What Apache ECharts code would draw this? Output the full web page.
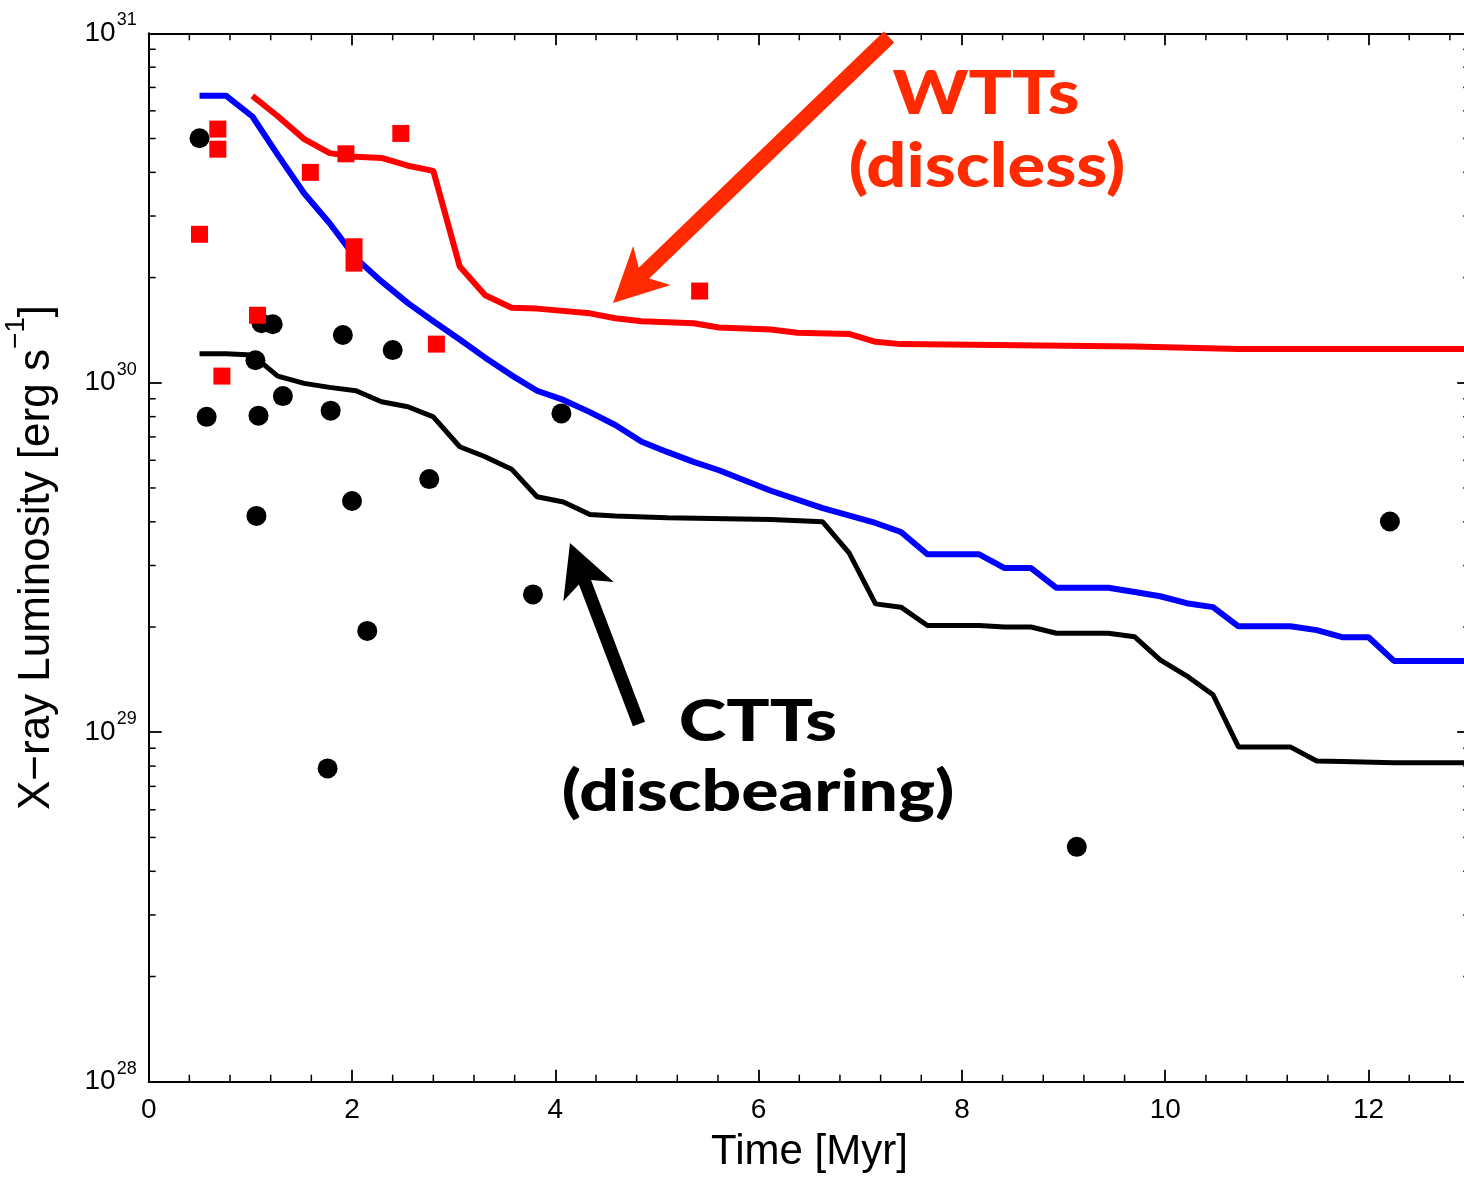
<!DOCTYPE html>
<html>
<head>
<meta charset="utf-8">
<script src="https://cdn.jsdelivr.net/npm/echarts@6/dist/echarts.min.js"></script>
<style>
  html, body { margin: 0; padding: 0; overflow: hidden; background: #fff; }
  #chart { width: 1480px; height: 1177px; }
</style>
</head>
<body>
<div id="chart"></div>
<script>
// Model tracks: X-ray luminosity vs. age
const wttModelAge = [1.02, 1.27, 1.53, 1.78, 2.04, 2.29, 2.55, 2.80, 3.06, 3.31, 3.57, 3.82, 4.34, 4.59, 4.85, 5.36, 5.61, 6.12, 6.38, 6.89, 7.15, 7.40, 9.70, 10.72, 11.74, 13.02];
const wttModelLx  = [6.62e30, 5.79e30, 4.98e30, 4.54e30, 4.43e30, 4.40e30, 4.18e30, 4.04e30, 2.15e30, 1.78e30, 1.64e30, 1.63e30, 1.58e30, 1.53e30, 1.50e30, 1.48e30, 1.44e30, 1.42e30, 1.39e30, 1.38e30, 1.31e30, 1.29e30, 1.27e30, 1.25e30, 1.25e30, 1.25e30];

const allModelAge = [0.50, 0.76, 1.02, 1.27, 1.53, 1.78, 2.04, 2.29, 2.55, 2.80, 3.06, 3.31, 3.57, 3.82, 4.08, 4.34, 4.59, 4.85, 5.10, 5.36, 5.61, 6.12, 6.63, 7.15, 7.40, 7.66, 8.17, 8.42, 8.68, 8.93, 9.44, 9.70, 9.95, 10.21, 10.47, 10.72, 11.23, 11.49, 11.74, 12.00, 12.25, 13.02];
const allModelLx  = [6.63e30, 6.63e30, 5.78e30, 4.49e30, 3.48e30, 2.86e30, 2.27e30, 1.95e30, 1.69e30, 1.50e30, 1.33e30, 1.18e30, 1.05e30, 9.49e29, 8.93e29, 8.24e29, 7.57e29, 6.78e29, 6.34e29, 5.94e29, 5.62e29, 4.91e29, 4.38e29, 3.97e29, 3.74e29, 3.23e29, 3.23e29, 2.95e29, 2.95e29, 2.59e29, 2.59e29, 2.52e29, 2.45e29, 2.34e29, 2.28e29, 2.01e29, 2.01e29, 1.96e29, 1.87e29, 1.87e29, 1.60e29, 1.60e29];

const cttModelAge = [0.50, 0.76, 1.02, 1.27, 1.53, 1.78, 2.04, 2.29, 2.55, 2.80, 3.06, 3.31, 3.57, 3.82, 4.08, 4.34, 4.59, 5.10, 6.12, 6.63, 6.89, 7.15, 7.40, 7.66, 8.17, 8.42, 8.68, 8.93, 9.44, 9.70, 9.95, 10.21, 10.47, 10.72, 11.23, 11.49, 11.74, 12.25, 13.02];
const cttModelLx  = [1.21e30, 1.21e30, 1.20e30, 1.045e30, 9.96e29, 9.70e29, 9.49e29, 8.82e29, 8.54e29, 7.99e29, 6.56e29, 6.14e29, 5.66e29, 4.72e29, 4.56e29, 4.20e29, 4.16e29, 4.11e29, 4.06e29, 4.00e29, 3.26e29, 2.33e29, 2.28e29, 2.02e29, 2.02e29, 2.00e29, 2.00e29, 1.92e29, 1.92e29, 1.875e29, 1.61e29, 1.45e29, 1.28e29, 9.08e28, 9.08e28, 8.27e28, 8.25e28, 8.18e28, 8.18e28];

// Observed stars
const cttAge = [0.50, 1.11, 1.22, 1.91, 2.40, 1.05, 0.57, 1.08, 1.32, 1.79, 2.76, 2.00, 1.06, 2.15, 1.76, 4.06, 3.78, 9.13, 12.21];
const cttLx  = [5.01e30, 1.48e30, 1.47e30, 1.37e30, 1.24e30, 1.16e30, 7.99e29, 8.05e29, 9.16e29, 8.32e29, 5.30e29, 4.59e29, 4.16e29, 1.95e29, 7.88e28, 8.17e29, 2.48e29, 4.70e28, 4.01e29];

const wttAge = [0.68, 0.68, 0.50, 1.59, 1.94, 2.48, 2.02, 2.02, 1.07, 2.83, 0.72, 5.42];
const wttLx  = [5.32e30, 4.66e30, 2.66e30, 4.00e30, 4.52e30, 5.17e30, 2.45e30, 2.20e30, 1.56e30, 1.29e30, 1.045e30, 1.83e30];

const zip = (xs, ys) => xs.map((x, i) => [x, ys[i]]);

// Minor tick positions (x every 0.4 Myr, y at 2..9 within each decade)
const minorTicks = [];
for (let k = 1; k <= 32; k++) if (k % 5 !== 0) minorTicks.push([k * 0.4, 1e29, 0]);
for (let e = 28; e <= 30; e++) for (let m = 2; m <= 9; m++) minorTicks.push([1, m * Math.pow(10, e), 1]);

const AXIS_FONT = 'Liberation Sans, Arial, Helvetica, sans-serif';
const NOTE_FONT = 'Lato, Open Sans, sans-serif';
const NOTE_RED = '#ff2a00';

function arrowPoints(tail, tip, shaftHalf, notchDist, barbDist, barbHalf) {
  const dx = tip[0] - tail[0], dy = tip[1] - tail[1];
  const L = Math.hypot(dx, dy);
  const ux = dx / L, uy = dy / L, nx = -uy, ny = ux;
  const at = (d, w) => [tip[0] - ux * d + nx * w, tip[1] - uy * d + ny * w];
  return [
    [tail[0] + nx * shaftHalf, tail[1] + ny * shaftHalf],
    at(notchDist, shaftHalf), at(barbDist, barbHalf), tip.slice(),
    at(barbDist, -barbHalf), at(notchDist, -shaftHalf),
    [tail[0] - nx * shaftHalf, tail[1] - ny * shaftHalf]
  ];
}

function note(text, x, y, size, color, stretch) {
  return {
    type: 'text', z: 100, x: x, y: y, scaleX: stretch, scaleY: 1,
    style: { text: text, fontFamily: NOTE_FONT, fontWeight: 900, fontSize: size, fill: color, align: 'center', verticalAlign: 'middle' }
  };
}

const chart = echarts.init(document.getElementById('chart'), null, { renderer: 'canvas' });

const xAxisBase = {
  type: 'value', min: 0, max: 13, interval: 2,
  axisLine: { show: true, onZero: false, lineStyle: { color: '#000', width: 2 } },
  axisTick: { show: true, inside: true, length: 12, lineStyle: { color: '#000', width: 1.8 } },
  minorTick: { show: false },
  splitLine: { show: false }
};
const yAxisBase = {
  type: 'log', logBase: 10, min: 1e28, max: 1e31,
  axisLine: { show: true, onZero: false, lineStyle: { color: '#000', width: 2 } },
  axisTick: { show: true, inside: true, length: 13, lineStyle: { color: '#000', width: 1.8 } },
  minorTick: { show: false },
  splitLine: { show: false }
};

function minorTickItem(params, api) {
  const cs = params.coordSys;
  const st = { stroke: '#000', lineWidth: 1.5 };
  if (api.value(2) === 0) {
    const px = api.coord([api.value(0), 1e29])[0];
    const yb = cs.y + cs.height, yt = cs.y;
    return { type: 'group', children: [
      { type: 'line', shape: { x1: px, y1: yb, x2: px, y2: yb - 7 }, style: st },
      { type: 'line', shape: { x1: px, y1: yt, x2: px, y2: yt + 7 }, style: st }
    ] };
  }
  const py = api.coord([1, api.value(1)])[1];
  const xl = cs.x, xr = cs.x + cs.width;
  return { type: 'group', children: [
    { type: 'line', shape: { x1: xl, y1: py, x2: xl + 7, y2: py }, style: st },
    { type: 'line', shape: { x1: xr, y1: py, x2: xr - 7, y2: py }, style: st }
  ] };
}

chart.setOption({
  animation: false,
  backgroundColor: '#fff',
  grid: { left: 148.7, top: 33.3, right: 9.8, bottom: 95.3, containLabel: false, outerBoundsMode: 'none' },
  xAxis: [
    Object.assign({}, xAxisBase, {
      position: 'bottom',
      name: 'Time [Myr]', nameLocation: 'middle', nameGap: 50,
      nameTextStyle: { fontFamily: AXIS_FONT, fontSize: 42, color: '#000' },
      axisLabel: { show: true, showMaxLabel: false, margin: 15, fontFamily: AXIS_FONT, fontSize: 28, color: '#000' }
    }),
    Object.assign({}, xAxisBase, { position: 'top', axisLabel: { show: false } })
  ],
  yAxis: [
    Object.assign({}, yAxisBase, {
      position: 'left',
      name: 'X\u2212ray Luminosity [erg s{sup|\u22121}]', nameLocation: 'middle', nameGap: 78,
      nameTextStyle: {
        fontFamily: AXIS_FONT, fontSize: 44, color: '#000', lineHeight: 68,
        rich: { sup: { fontFamily: AXIS_FONT, fontSize: 28, color: '#000', verticalAlign: 'top', lineHeight: 30 } }
      },
      axisLabel: {
        show: true, margin: 12,
        formatter: v => '{a|10}{b|' + Math.round(Math.log10(v)) + '}',
        rich: {
          a: { fontFamily: AXIS_FONT, fontSize: 28, color: '#000', lineHeight: 44 },
          b: { fontFamily: AXIS_FONT, fontSize: 18, color: '#000', verticalAlign: 'top', lineHeight: 18, padding: [0, 0, 0, 1] }
        }
      }
    }),
    Object.assign({}, yAxisBase, { position: 'right', axisLabel: { show: false } })
  ],
  series: [
    { type: 'custom', renderItem: minorTickItem, data: minorTicks, clip: false, silent: true, z: 1 },
    { name: 'CTTs', type: 'scatter', data: zip(cttAge, cttLx), symbol: 'circle', symbolSize: 20,
      itemStyle: { color: '#000', opacity: 1 }, z: 2 },
    { name: 'WTT model', type: 'line', data: zip(wttModelAge, wttModelLx), showSymbol: false, symbol: 'none',
      lineStyle: { color: '#ff0000', width: 6 }, z: 3 },
    { name: 'All model', type: 'line', data: zip(allModelAge, allModelLx), showSymbol: false, symbol: 'none',
      lineStyle: { color: '#0000ff', width: 6 }, z: 3 },
    { name: 'CTT model', type: 'line', data: zip(cttModelAge, cttModelLx), showSymbol: false, symbol: 'none',
      lineStyle: { color: '#000', width: 5 }, z: 3 },
    { name: 'WTTs', type: 'scatter', data: zip(wttAge, wttLx), symbol: 'rect', symbolSize: 17,
      itemStyle: { color: '#ff0000', opacity: 1 }, z: 4 }
  ],
  graphic: [
    { type: 'polygon', z: 100, shape: { points: arrowPoints([889, 37], [613, 303], 7.5, 43, 54, 27) }, style: { fill: NOTE_RED } },
    { type: 'polygon', z: 100, shape: { points: arrowPoints([639, 724], [570, 543], 6.5, 42, 52, 27) }, style: { fill: '#000' } },
    note('WTTs', 986, 95, 60, NOTE_RED, 1.2),
    note('(discless)', 987, 168, 60, NOTE_RED, 1.17),
    note('CTTs', 758, 722, 58, '#000', 1.24),
    note('(discbearing)', 758, 792, 58, '#000', 1.2)
  ]
});
</script>
</body>
</html>
